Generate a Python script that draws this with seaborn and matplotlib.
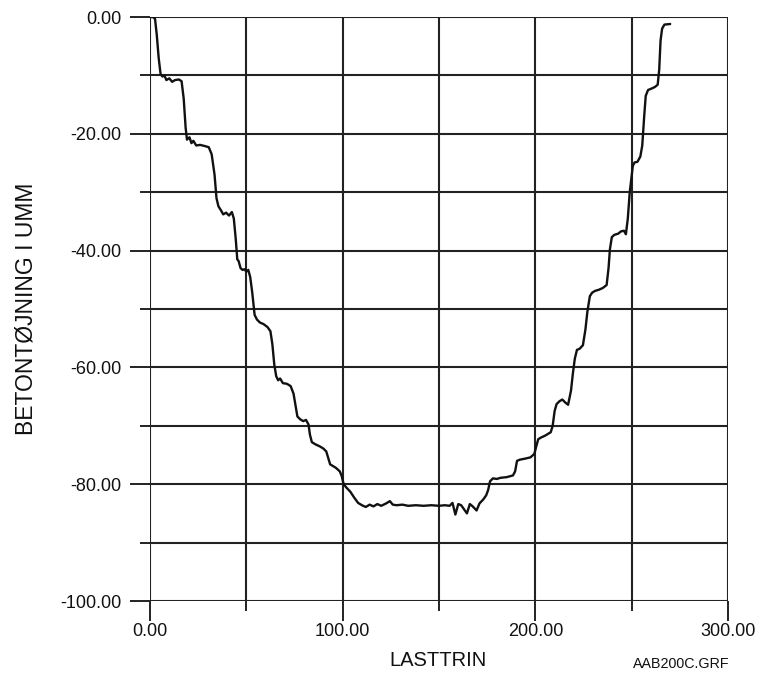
import matplotlib
matplotlib.use("Agg")
import matplotlib.pyplot as plt
import seaborn as sns
import pandas as pd
import numpy as np
from matplotlib.ticker import MultipleLocator, FormatStrFormatter

# ---- data ----
lasttrin = [0, 1.5, 2.6, 3.5, 4.5, 5.5, 6.5, 7.5, 8.5, 10, 11.5, 13, 15, 16.4, 17.5, 18.5, 19.2,
            20.5, 21.5, 22.5, 24, 26, 28.5, 30.5, 32, 33.5, 34.5, 35.5, 37, 38, 39.5, 41, 42.5,
            43.5, 44.5, 45.3, 46, 47, 48, 49, 50, 51, 52, 53, 54.3, 55.5, 57, 59, 61, 62.5, 63.5,
            64.5, 65.5, 66.5, 67.5, 69, 71, 73, 74.5, 75.5, 76.5, 78, 79.5, 81, 82.3, 83, 84, 86,
            88, 90, 91.5, 92.5, 93.5, 95, 96.5, 98.5, 99.5, 100.5, 102, 104, 106, 108, 110, 112,
            114, 116, 118, 120, 122.5, 124.5, 126, 128, 131, 134, 138, 142, 146, 150, 153, 155.5,
            157, 158.5, 160, 161.5, 163, 164.5, 166, 167.5, 169.5, 171, 173, 174.5, 175.5, 176.5,
            178, 180, 182, 185, 188.4, 189.5, 190.5, 192, 195, 197.5, 199.5, 200.5, 201.5, 203,
            205, 208, 209, 210, 211, 212.5, 214, 215.5, 217, 218.5, 219.5, 220.5, 221.6, 223,
            224.7, 226, 227, 228.3, 229.5, 231, 233, 235, 237, 238, 238.7, 239.7, 241, 243, 244.5,
            246, 247, 248, 249, 250.6, 251.5, 253, 254.5, 255.5, 256.5, 257.3, 258.5, 260, 262,
            263.5, 264.3, 265, 265.8, 267, 270]
toejning = [0, 0, -0.3, -3, -7, -9.8, -10.2, -10.0, -10.8, -10.5, -11.1, -10.8, -10.7, -11.0, -14,
            -19, -21.0, -20.6, -21.6, -21.2, -22.0, -21.9, -22.1, -22.3, -23.5, -27, -31, -32.4,
            -33.2, -33.8, -33.5, -34.0, -33.4, -34.5, -38, -41.5, -41.8, -43.0, -43.3, -43.2,
            -43.6, -43.3, -44.5, -47, -51, -51.8, -52.3, -52.6, -53.1, -53.8, -56, -59.5, -61.5,
            -62.2, -61.9, -62.7, -62.8, -63.2, -64.5, -66.5, -68.4, -68.9, -69.2, -69.0, -69.8,
            -71.5, -72.8, -73.2, -73.5, -73.9, -74.4, -75.5, -76.6, -76.9, -77.2, -77.8, -78.6,
            -80.0, -80.6, -81.3, -82.3, -83.2, -83.6, -83.9, -83.5, -83.8, -83.4, -83.7, -83.3,
            -82.9, -83.5, -83.6, -83.5, -83.7, -83.6, -83.7, -83.6, -83.7, -83.6, -83.7, -83.2,
            -85.2, -83.4, -83.6, -84.3, -85.0, -83.4, -83.8, -84.5, -83.3, -82.6, -81.9, -81.0,
            -79.5, -79.0, -79.1, -78.9, -78.8, -78.5, -77.8, -76.0, -75.8, -75.6, -75.4, -74.8,
            -73.5, -72.3, -72.0, -71.7, -71.1, -70, -67.5, -66.3, -65.8, -65.5, -66.0, -66.4,
            -64, -61, -58.5, -57.0, -56.8, -56.2, -53.5, -50.5, -47.8, -47.2, -46.9, -46.7,
            -46.4, -45.9, -43, -39.8, -37.7, -37.3, -37.1, -36.7, -36.6, -37.2, -34.5, -30,
            -25.5, -24.9, -24.8, -23.9, -22, -17, -13.5, -12.5, -12.3, -12.0, -11.6, -9, -4,
            -2, -1.3, -1.2]

x_major = [0, 100, 200, 300]
y_major = [-100, -80, -60, -40, -20, 0]

x_label = "LASTTRIN"
y_label = "BETONTØJNING I UMM"
file_tag = "AAB200C.GRF"

df = pd.DataFrame({"x": lasttrin, "y": toejning})

sns.set_style("white")
plt.rcParams["font.family"] = ["Liberation Sans", "DejaVu Sans"]

fig = plt.figure(figsize=(7.58, 6.80), dpi=100)
ax = fig.add_axes([150 / 758, 1 - 601 / 680, 578 / 758, 584 / 680])

sns.lineplot(data=df, x="x", y="y", ax=ax, color="#111111", linewidth=1.7, sort=False,
             estimator=None)

ax.set_xlim(0, 300)
ax.set_ylim(-100, 0)
ax.set_xticks(x_major)
ax.set_yticks(y_major)
ax.xaxis.set_minor_locator(MultipleLocator(50))
ax.yaxis.set_minor_locator(MultipleLocator(10))
ax.xaxis.set_major_formatter(FormatStrFormatter("%.2f"))
ax.yaxis.set_major_formatter(FormatStrFormatter("%.2f"))

gcol = "#222222"
ax.grid(True, which="both", color=gcol, linewidth=1.5)
ax.set_axisbelow(True)
for s in ax.spines.values():
    s.set_visible(False)

ax.tick_params(axis="both", which="major", direction="out", length=14.5, width=1.4,
               color=gcol, labelsize=13, labelcolor="#111111")
ax.tick_params(axis="both", which="minor", direction="out", length=7.2, width=1.4, color=gcol)
ax.tick_params(axis="x", which="major", pad=1)
ax.tick_params(axis="y", which="major", pad=6)
ax.tick_params(left=True, bottom=True, which="both")

ax.set_xlabel("")
ax.set_ylabel("")
fig.text(438 / 758, 1 - 660 / 680, x_label, ha="center", va="center", fontsize=14.5,
         color="#111111")
fig.text(26 / 758, 1 - 309 / 680, y_label, ha="center", va="center", rotation=90,
         fontsize=16.5, color="#111111")
fig.text(681 / 758, 1 - 664 / 680, file_tag, ha="center", va="center", fontsize=10.3,
         color="#111111")

fig.savefig("out.png", dpi=100)
